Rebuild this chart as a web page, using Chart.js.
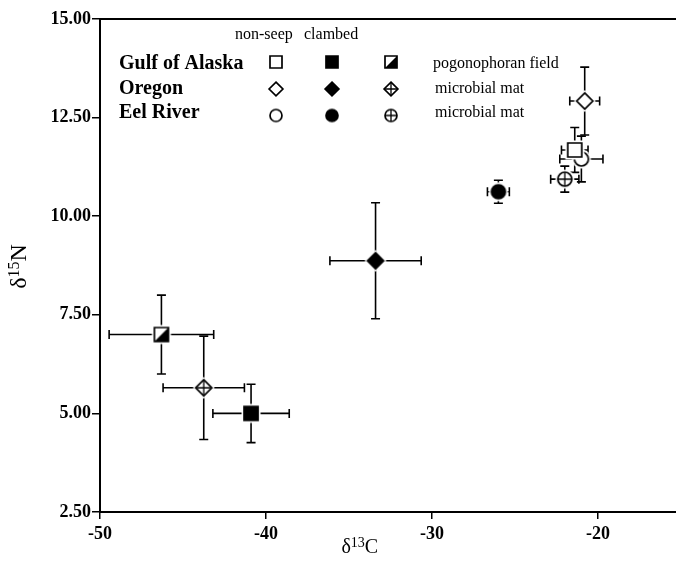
<!DOCTYPE html>
<html>
<head>
<meta charset="utf-8">
<script src="https://cdn.jsdelivr.net/npm/chart.js@4.4.0/dist/chart.umd.min.js"></script>
<style>
  html, body { margin: 0; padding: 0; background: #fff; }
  #wrap { width: 676px; height: 571px; }
</style>
</head>
<body>
<div id="wrap"><canvas id="isotopeChart" width="676" height="571"></canvas></div>
<script>
// Sites and sample types (columns: non-seep, clambed, other seep habitat)
const sites = ['Gulf of Alaska', 'Oregon', 'Eel River'];
const sampleTypes = ['non-seep', 'clambed'];
const seepHabitats = ['pogonophoran field', 'microbial mat', 'microbial mat'];

// delta13C / delta15N means with error, per site
const alaskaC = [-21.4, -40.9, -46.3];
const alaskaCErr = [0.8, 2.3, 3.15];
const alaskaN = [11.68, 5.0, 7.0];
const alaskaNErr = [0.57, 0.74, 1.0];

const oregonC = [-20.8, -33.4, -43.75];
const oregonCErr = [0.9, 2.75, 2.45];
const oregonN = [12.92, 8.87, 5.65];
const oregonNErr = [0.86, 1.47, 1.31];

const eelC = [-21.0, -26.0, -22.0];
const eelCErr = [1.3, 0.66, 0.85];
const eelN = [11.45, 10.62, 10.94];
const eelNErr = [0.58, 0.29, 0.33];

const xTicks = [-50, -40, -30, -20];
const yTicks = [2.5, 5, 7.5, 10, 12.5, 15];

const serif = 'Liberation Serif';

// Build a marker as a small canvas (white halo so error bars stop short)
function shapePath(ctx, shape, m, h) {
  ctx.beginPath();
  if (shape === 'square') {
    ctx.rect(m - h, m - h, 2 * h, 2 * h);
  } else if (shape === 'diamond') {
    const d = h * 1.15;
    ctx.moveTo(m, m - d); ctx.lineTo(m + d, m); ctx.lineTo(m, m + d); ctx.lineTo(m - d, m);
    ctx.closePath();
  } else {
    ctx.arc(m, m, h, 0, Math.PI * 2);
  }
}

function makeMarker(shape, style, size) {
  const c = document.createElement('canvas');
  c.width = c.height = size + 12;
  const ctx = c.getContext('2d');
  const m = c.width / 2, h = size / 2;
  ctx.fillStyle = '#fff';
  shapePath(ctx, shape, m, h + 2.5);
  ctx.fill();
  ctx.lineWidth = 1.7;
  ctx.strokeStyle = '#000';
  shapePath(ctx, shape, m, h);
  ctx.fillStyle = style === 'filled' ? '#000' : '#fff';
  ctx.fill();
  if (style === 'half') {
    ctx.beginPath();
    ctx.moveTo(m + h, m - h); ctx.lineTo(m + h, m + h); ctx.lineTo(m - h, m + h);
    ctx.closePath();
    ctx.fillStyle = '#000';
    ctx.fill();
  }
  shapePath(ctx, shape, m, h);
  ctx.stroke();
  if (style === 'cross') {
    ctx.lineWidth = 1.3;
    ctx.beginPath();
    ctx.moveTo(m - h, m); ctx.lineTo(m + h, m);
    ctx.moveTo(m, m - h); ctx.lineTo(m, m + h);
    ctx.stroke();
  }
  return c;
}

const siteShapes = ['square', 'diamond', 'circle'];
const thirdStyle = ['half', 'cross', 'cross'];
function markersFor(row, size) {
  const s = siteShapes[row];
  return [makeMarker(s, 'open', size), makeMarker(s, 'filled', size), makeMarker(s, thirdStyle[row], size)];
}

function toPoints(cs, cErr, ns, nErr) {
  return cs.map((c, i) => ({ x: c, y: ns[i], xErr: cErr[i], yErr: nErr[i] }));
}

// Error bars with caps
const errorBars = {
  id: 'errorBars',
  beforeDatasetsDraw(chart) {
    const ctx = chart.ctx;
    const xs = chart.scales.x, ys = chart.scales.y;
    const cap = 4.5;
    ctx.save();
    ctx.strokeStyle = '#000';
    ctx.lineWidth = 1.6;
    chart.data.datasets.forEach(ds => {
      ds.data.forEach(p => {
        const px = xs.getPixelForValue(p.x), py = ys.getPixelForValue(p.y);
        const xl = xs.getPixelForValue(p.x - p.xErr), xr = xs.getPixelForValue(p.x + p.xErr);
        const yt = ys.getPixelForValue(p.y + p.yErr), yb = ys.getPixelForValue(p.y - p.yErr);
        ctx.beginPath();
        ctx.moveTo(xl, py); ctx.lineTo(xr, py);
        ctx.moveTo(px, yt); ctx.lineTo(px, yb);
        ctx.moveTo(xl, py - cap); ctx.lineTo(xl, py + cap);
        ctx.moveTo(xr, py - cap); ctx.lineTo(xr, py + cap);
        ctx.moveTo(px - cap, yt); ctx.lineTo(px + cap, yt);
        ctx.moveTo(px - cap, yb); ctx.lineTo(px + cap, yb);
        ctx.stroke();
      });
    });
    ctx.restore();
  }
};

// Top frame line, axis titles with superscripts, and the symbol key
const decorations = {
  id: 'decorations',
  afterDraw(chart) {
    const ctx = chart.ctx;
    const area = chart.chartArea;
    ctx.save();
    ctx.strokeStyle = '#000';
    ctx.lineWidth = 2;
    ctx.beginPath();
    ctx.moveTo(area.left, area.top);
    ctx.lineTo(area.right, area.top);
    ctx.stroke();

    ctx.fillStyle = '#000';
    ctx.textBaseline = 'alphabetic';
    ctx.textAlign = 'left';

    // x title: delta 13 C
    const drawIso = (sup, el, big, small, rise) => {
      ctx.font = big + 'px "' + serif + '"';
      const wd = ctx.measureText('\u03b4').width;
      const we = ctx.measureText(el).width;
      ctx.font = small + 'px "' + serif + '"';
      const ws = ctx.measureText(sup).width;
      const total = wd + ws + we;
      let x0 = -total / 2;
      ctx.font = big + 'px "' + serif + '"';
      ctx.fillText('\u03b4', x0, 0);
      ctx.font = small + 'px "' + serif + '"';
      ctx.fillText(sup, x0 + wd, -rise);
      ctx.font = big + 'px "' + serif + '"';
      ctx.fillText(el, x0 + wd + ws, 0);
    };
    ctx.save();
    ctx.translate(area.left + (area.right - area.left) * 0.451, 553);
    drawIso('13', 'C', 20, 14, 6);
    ctx.restore();

    ctx.save();
    ctx.translate(26, (area.top + area.bottom) / 2 + 1);
    ctx.rotate(-Math.PI / 2);
    drawIso('15', 'N', 24, 16, 7);
    ctx.restore();

    // key
    ctx.font = '16px "' + serif + '"';
    ctx.fillText(sampleTypes[0], 235, 39);
    ctx.fillText(sampleTypes[1], 304, 39);
    const rowBase = [69, 94, 118];
    const rowMark = [62, 89, 115.5];
    const colX = [276, 332, 391];
    sites.forEach((site, r) => {
      ctx.font = 'bold 20px "' + serif + '"';
      ctx.fillText(site, 119, rowBase[r]);
      ctx.font = '16px "' + serif + '"';
      ctx.fillText(seepHabitats[r], r === 0 ? 433 : 435, rowBase[r] - 1);
      legendMarkers[r].forEach((mk, c) => {
        ctx.drawImage(mk, colX[c] - mk.width / 2, rowMark[r] - mk.height / 2);
      });
    });
    ctx.restore();
  }
};

const legendMarkers = [markersFor(0, 12), markersFor(1, 12), markersFor(2, 12)];

const datasets = [
  { label: sites[0], data: toPoints(alaskaC, alaskaCErr, alaskaN, alaskaNErr), pointStyle: markersFor(0, 14) },
  { label: sites[1], data: toPoints(oregonC, oregonCErr, oregonN, oregonNErr), pointStyle: markersFor(1, 14) },
  { label: sites[2], data: toPoints(eelC, eelCErr, eelN, eelNErr), pointStyle: markersFor(2, 14) }
];

const tickFont = { family: serif, weight: 'bold', size: 18 };

new Chart(document.getElementById('isotopeChart').getContext('2d'), {
  type: 'scatter',
  data: { datasets: datasets },
  options: {
    responsive: false,
    animation: false,
    devicePixelRatio: 1,
    layout: { padding: { top: 19, right: 0, left: 0, bottom: 0 }, autoPadding: false },
    plugins: { legend: { display: false }, tooltip: { enabled: false } },
    scales: {
      x: {
        type: 'linear',
        min: -50,
        max: -15.3,
        afterBuildTicks: axis => { axis.ticks = xTicks.map(v => ({ value: v })); },
        afterFit: axis => { axis.height = 59; },
        border: { color: '#000', width: 2 },
        grid: { drawOnChartArea: false, color: '#000', lineWidth: 1.5, tickLength: 7 },
        ticks: { color: '#000', font: tickFont, padding: 5, maxRotation: 0 }
      },
      y: {
        type: 'linear',
        min: 2.5,
        max: 15,
        afterBuildTicks: axis => { axis.ticks = yTicks.map(v => ({ value: v })); },
        afterFit: axis => { axis.width = 100; },
        border: { color: '#000', width: 2 },
        grid: { drawOnChartArea: false, color: '#000', lineWidth: 1.5, tickLength: 8 },
        ticks: { color: '#000', font: tickFont, padding: 1, callback: v => v.toFixed(2) }
      }
    }
  },
  plugins: [errorBars, decorations]
});
</script>
</body>
</html>
